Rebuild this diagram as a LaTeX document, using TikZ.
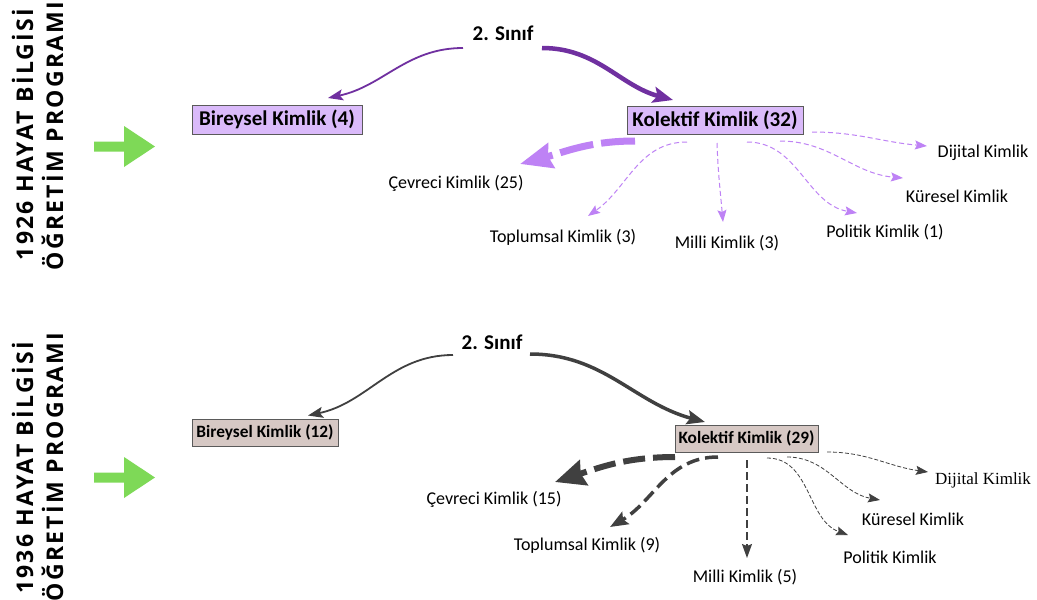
\documentclass[tikz,border=0pt]{standalone}
\usepackage{fontspec}
\setmainfont{Carlito}
\newfontfamily\sidefont[LetterSpace=10]{Open Sans}
\newfontfamily\serfont{Liberation Serif}
\usetikzlibrary{arrows.meta,calc}
\definecolor{purpD}{RGB}{112,48,160}
\definecolor{purpL}{RGB}{190,130,245}
\definecolor{grayD}{RGB}{64,64,64}
\definecolor{lav}{RGB}{218,186,250}
\definecolor{taupe}{RGB}{214,200,196}
\definecolor{boxline}{RGB}{90,90,90}
\definecolor{greenA}{RGB}{126,217,87}
\tikzset{
  lbl/.style={inner sep=0pt, font=\fontsize{18}{21}\selectfont},
  sinif/.style={inner sep=0pt, font=\bfseries\fontsize{21}{24}\selectfont},
  boxA/.style={draw=boxline, fill=lav, line width=1pt, inner sep=0pt, font=\bfseries\fontsize{21}{24}\selectfont},
  boxB/.style={draw=boxline, fill=taupe, line width=1pt, inner sep=0pt, font=\bfseries\fontsize{17.3}{20}\selectfont},
  side/.style={rotate=90, anchor=base, inner sep=0pt, font=\sidefont\bfseries\fontsize{23}{26}\selectfont},
  thinL/.style={purpL, line width=1pt, dash pattern=on 5pt off 3pt, -{Stealth[length=12pt,width=9pt,inset=2pt]}},
  thinD/.style={grayD, line width=0.8pt, dash pattern=on 4pt off 2pt, -{Stealth[length=12pt,width=9pt,inset=2pt]}},
}
\begin{document}
\begin{tikzpicture}[x=1pt,y=-1pt]
\useasboundingbox (0,0) rectangle (1037,600);
\fill[white] (0,0) rectangle (1037,600);

% side texts
\node[side] (s1a) at (33,134.5) {1926 HAYAT BİLGİSİ};
\node[side] (s1b) at (63,136) {ÖĞRETİM PROGRAMI};
\node[side] (s2a) at (33,468) {1936 HAYAT BİLGİSİ};
\node[side] (s2b) at (63,467) {ÖĞRETİM PROGRAMI};

% green arrows
\fill[greenA] (94,141.5) -- (124,141.5) -- (124,126) -- (155,146.5) -- (124,167) -- (124,151.5) -- (94,151.5) -- cycle;
\fill[greenA] (94,472.5) -- (124,472.5) -- (124,457) -- (155,477.5) -- (124,498) -- (124,482.5) -- (94,482.5) -- cycle;

% ---------- top ----------
\node[sinif] (sin1) at (503,33) {2. Sınıf};
\node[boxA, minimum width=170pt, minimum height=29pt] (bir1) at (277,119.5) {Bireysel Kimlik (4)};
\node[boxA, minimum width=176pt, minimum height=28pt] (kol1) at (715,120.5) {Kolektif Kimlik (32)};
\node[lbl] (cev1) at (456,183) {Çevreci Kimlik (25)};
\node[lbl] (top1) at (563,237) {Toplumsal Kimlik (3)};
\node[lbl] (mil1) at (727,243) {Milli Kimlik (3)};
\node[lbl] (pol1) at (885,232) {Politik Kimlik (1)};
\node[lbl] (kur1) at (957,196) {Küresel Kimlik};
\node[lbl] (dij1) at (983,153) {Dijital Kimlik};

\draw[purpD, line width=1.8pt, -{Stealth[length=15pt,width=11pt,inset=3pt]}]
  ($(sin1.center)+(-40,15)$) to[out=180,in=12] ($(bir1.center)+(51,-21.5)$);
\draw[purpD, line width=4.5pt, -{Stealth[length=20pt,width=16pt,inset=4pt]}]
  ($(sin1.center)+(39,15)$) to[out=0,in=165] ($(kol1.center)+(-42,-20.5)$);

\draw[purpL, line width=7pt, dash pattern=on 34pt off 8pt, -{Stealth[length=32pt,width=25pt,inset=3pt]}]
  ($(kol1.center)+(-80,20.5)$) to[out=180,in=15] ($(cev1.center)+(64,-19)$);
\draw[thinL] ($(kol1.center)+(-28,21.5)$) to[out=180,in=35] ($(top1.center)+(25,-21)$);
\draw[thinL] ($(kol1.center)+(2,22.5)$) to[out=-88,in=95] ($(mil1.center)+(-4,-21)$);
\draw[thinL] ($(kol1.center)+(32,21.5)$) to[out=0,in=170] ($(pol1.center)+(-28,-19)$);
\draw[thinL] ($(kol1.center)+(65,20.5)$) to[out=0,in=175] ($(kur1.center)+(-54,-18)$);
\draw[thinL] ($(kol1.center)+(97,11.5)$) to[out=0,in=175] ($(dij1.center)+(-56,-7)$);

% ---------- bottom ----------
\node[sinif] (sin2) at (492,342) {2. Sınıf};
\node[boxB, minimum width=146pt, minimum height=27pt] (bir2) at (265,432.5) {Bireysel Kimlik (12)};
\node[boxB, minimum width=143pt, minimum height=27pt] (kol2) at (746.5,438.5) {Kolektif Kimlik (29)};
\node[lbl] (cev2) at (494,499) {Çevreci Kimlik (15)};
\node[lbl] (top2) at (587,545) {Toplumsal Kimlik (9)};
\node[lbl] (mil2) at (745,577) {Milli Kimlik (5)};
\node[lbl] (pol2) at (890,557) {Politik Kimlik};
\node[lbl] (kur2) at (913,519) {Küresel Kimlik};
\node[lbl, font=\serfont\fontsize{17}{20}\selectfont] (dij2) at (983,480) {Dijital Kimlik};

\draw[grayD, line width=1.8pt, -{Stealth[length=15pt,width=11pt,inset=3pt]}]
  ($(sin2.center)+(-39,13)$) to[out=180,in=12] ($(bir2.center)+(43,-17)$);
\draw[grayD, line width=3.5pt, -{Stealth[length=18pt,width=14pt,inset=3pt]}]
  ($(sin2.center)+(38,12)$) to[out=0,in=165] ($(kol2.center)+(-41.5,-16.5)$);

\draw[grayD, line width=6pt, dash pattern=on 22pt off 8pt, -{Stealth[length=30pt,width=26pt,inset=3pt]}]
  ($(kol2.center)+(-71.5,18.5)$) to[out=180,in=18] ($(cev2.center)+(61,-17)$);
\draw[grayD, line width=3.5pt, dash pattern=on 13pt off 6pt, -{Stealth[length=18pt,width=14pt,inset=3pt]}]
  ($(kol2.center)+(-28.5,18.5)$) to[out=180,in=30] ($(top2.center)+(23,-18)$);
\draw[grayD, line width=1.3pt, dash pattern=on 8pt off 4pt, -{Stealth[length=14pt,width=10pt,inset=2pt]}]
  ($(kol2.center)+(0.5,21.5)$) -- ($(mil2.center)+(2,-19)$);
\draw[thinD] ($(kol2.center)+(20.5,19.5)$) to[out=0,in=160] ($(pol2.center)+(-42,-22)$);
\draw[thinD] ($(kol2.center)+(40.5,18.5)$) to[out=0,in=170] ($(kur2.center)+(-33,-19)$);
\draw[thinD] ($(kol2.center)+(80.5,13.5)$) to[out=0,in=172] ($(dij2.center)+(-55,-8)$);
\end{tikzpicture}
\end{document}
